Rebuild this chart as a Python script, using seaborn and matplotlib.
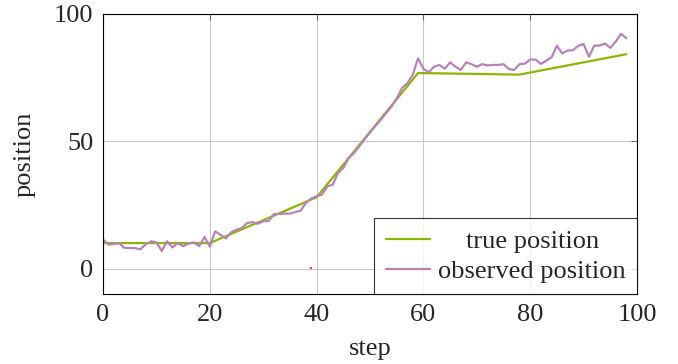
import glob
import numpy as np
import pandas as pd
import matplotlib
matplotlib.use("Agg")
import matplotlib.pyplot as plt
from matplotlib import font_manager
import seaborn as sns

# ---- data ----
true_steps = [0, 20, 40, 59, 78, 98]
true_pos = [10.0, 10.0, 28.0, 76.8, 76.2, 84.2]

obs_steps = list(range(0, 99))
obs_pos = [11.4, 9.5, 9.6, 10.0, 8.1, 8.1, 8.0, 7.6, 9.5, 10.7,
           10.3, 6.9, 10.7, 8.3, 10.0, 8.8, 9.8, 10.3, 8.8, 12.4,
           8.6, 14.6, 13.3, 11.8, 14.2, 15.3, 15.9, 17.9, 18.2, 17.6,
           18.6, 18.6, 21.4, 21.4, 21.6, 21.6, 22.2, 22.7, 25.8, 27.5,
           28.4, 29.0, 32.3, 32.9, 37.5, 39.5, 43.4, 45.4, 48.0, 50.8,
           53.5, 56.0, 58.4, 61.0, 63.6, 66.8, 70.9, 72.8, 76.1, 82.6,
           78.5, 77.1, 79.3, 80.0, 78.5, 81.0, 79.3, 78.0, 81.0, 80.3,
           79.3, 80.3, 79.8, 80.0, 80.0, 80.3, 78.4, 78.0, 80.3, 80.5,
           82.1, 82.1, 80.4, 81.7, 83.0, 87.5, 84.5, 85.6, 85.8, 87.5,
           88.2, 83.2, 87.6, 87.6, 88.4, 86.7, 89.1, 92.2, 90.5]

marker_x = [39]
marker_y = [0.4]

x_ticks = [0, 20, 40, 60, 80, 100]
y_ticks = [0, 50, 100]
series_names = ["true position", "observed position"]
colors = ["#8db600", "#b783b7"]

# ---- fonts ----
for pat in ["/usr/share/fonts/**/Liberation*Serif*.ttf",
            "/usr/share/fonts/**/liberation*/*Serif*.ttf",
            "/usr/local/share/fonts/**/Liberation*Serif*.ttf",
            "/usr/share/fonts/**/Tinos*.ttf"]:
    for f in glob.glob(pat, recursive=True):
        try:
            font_manager.fontManager.addfont(f)
        except Exception:
            pass
serif_names = sorted({f.name for f in font_manager.fontManager.ttflist})
preferred = [n for n in ["Liberation Serif", "Tinos", "Times New Roman",
                         "Nimbus Roman", "Noto Serif", "DejaVu Serif"] if n in serif_names]

# ---- style ----
sns.set_style("white")
plt.rcParams['font.family'] = preferred[:1] + ['DejaVu Serif']
plt.rcParams['mathtext.fontset'] = 'stix'
FS = 19

df = pd.concat([
    pd.DataFrame({"step": true_steps, "position": true_pos, "series": series_names[0]}),
    pd.DataFrame({"step": obs_steps, "position": obs_pos, "series": series_names[1]}),
], ignore_index=True)

DPI = 100
fig = plt.figure(figsize=(6.78, 3.64), dpi=DPI)
ax = fig.add_axes([103/678, 70/364, 534/678, 280/364])

sns.lineplot(data=df, x="step", y="position", hue="series",
             hue_order=series_names, palette=colors, linewidth=1.6,
             ax=ax, sort=False, estimator=None)
sns.scatterplot(x=marker_x, y=marker_y, color="#ff3030", marker="s", s=4,
                linewidth=0, ax=ax, legend=False, zorder=5)

ax.set_xlim(0, 100)
ax.set_ylim(-10, 100)
ax.set_xticks(x_ticks)
ax.set_yticks(y_ticks)
ax.grid(True, color="#c8c8c8", linewidth=0.8)
ax.set_axisbelow(True)
for s in ax.spines.values():
    s.set_color("black")
    s.set_linewidth(0.8)
ax.tick_params(direction="in", length=4, width=0.8, color="#666666",
               top=True, right=True, labelsize=FS, pad=7)
ax.set_xlabel("step", fontsize=FS, labelpad=9)
ax.set_ylabel("position", fontsize=FS, labelpad=13)

leg = ax.legend(loc="lower right", fontsize=FS, frameon=True, fancybox=False,
                borderaxespad=0, handlelength=1.7, handletextpad=0.3,
                labelspacing=0.25, borderpad=0.42)
leg.get_frame().set_edgecolor("black")
leg.get_frame().set_linewidth(0.8)
for line in leg.get_lines():
    line.set_linewidth(1.6)

fig.canvas.draw()
renderer = fig.canvas.get_renderer()
widths = [t.get_window_extent(renderer).width for t in leg.get_texts()]
maxw = max(widths)
for t, w in zip(leg.get_texts(), widths):
    t.set_position(((maxw - w) / 2.0, 0))

fig.savefig("out.png", dpi=DPI)
